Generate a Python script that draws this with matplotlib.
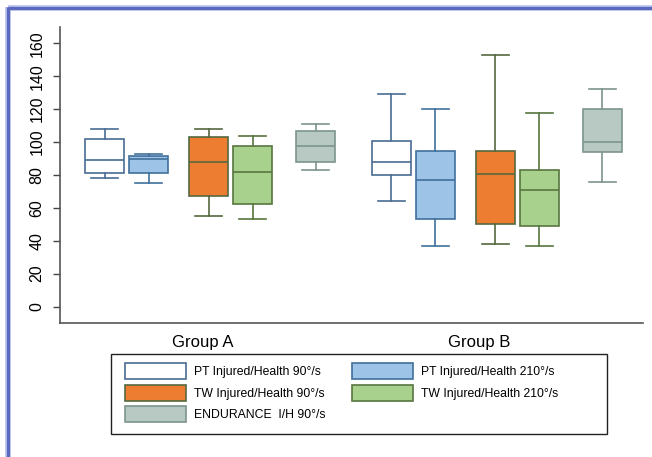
import matplotlib
matplotlib.use("Agg")
import matplotlib.pyplot as plt
from matplotlib.patches import Patch, Rectangle
from matplotlib.lines import Line2D

plt.rcParams['font.family'] = ['Liberation Sans', 'DejaVu Sans']

# Box-plot summaries per group: (whisker low, Q1, median, Q3, whisker high)
groups = ["Group A", "Group B"]
series = ["PT Injured/Health 90°/s", "PT Injured/Health 210°/s",
          "TW Injured/Health 90°/s", "TW Injured/Health 210°/s",
          "ENDURANCE  I/H 90°/s"]

pt90 = [[78, 81, 89, 102, 108], [64, 80, 88, 100.5, 129]]
pt210 = [[75, 81, 89.5, 91.5, 92.5], [37, 53.5, 77, 94.5, 120]]
tw90 = [[55, 67, 88, 103, 108], [38, 50, 80.5, 94.5, 153]]
tw210 = [[53, 62.5, 82, 97.5, 103.5], [37, 49, 71, 83, 118]]
endurance = [[83, 88, 97.5, 106.5, 111], [76, 94, 100, 120, 132.5]]

yticks = [0, 20, 40, 60, 80, 100, 120, 140, 160]

faces = ["#ffffff", "#9dc3e6", "#ed7d31", "#a9d18e", "#b8c9c3"]
edges = ["#4a6c94", "#41709c", "#55683f", "#58763f", "#7d958c"]

W, H = 652, 457
fig = plt.figure(figsize=(W / 100, H / 100), dpi=100)
ax = fig.add_axes([60 / W, (H - 323) / H, (643 - 60) / W, (323 - 27) / H])

group_start = [104.5, 391]
offsets = [0, 44, 104, 148, 211]
label_pos = [202.5, 479]
data = [pt90, pt210, tw90, tw210, endurance]

for si, vals in enumerate(data):
    stats = []
    pos = []
    for gi in range(len(groups)):
        lo, q1, med, q3, hi = vals[gi]
        stats.append(dict(whislo=lo, q1=q1, med=med, q3=q3, whishi=hi, fliers=[]))
        pos.append(group_start[gi] + offsets[si])
    ec = edges[si]
    ax.bxp(stats, positions=pos, widths=39, capwidths=27, patch_artist=True,
           showfliers=False, manage_ticks=False,
           boxprops=dict(facecolor=faces[si], edgecolor=ec, linewidth=1.2),
           medianprops=dict(color=ec, linewidth=1.2),
           whiskerprops=dict(color=ec, linewidth=1.2),
           capprops=dict(color=ec, linewidth=1.2))

ax.set_xlim(60, 643)
ax.set_ylim(-10, 170)
ax.set_yticks(yticks)
ax.set_yticklabels([str(t) for t in yticks], rotation=90, va='center', fontsize=11.5)
ax.set_xticks(label_pos)
ax.set_xticklabels(groups, fontsize=12)
ax.tick_params(axis='x', length=0, pad=9)
ax.tick_params(axis='y', length=5, width=1, color='#444444', pad=6)
for s in ['top', 'right']:
    ax.spines[s].set_visible(False)
for s in ['left', 'bottom']:
    ax.spines[s].set_color('#555555')
    ax.spines[s].set_linewidth(1.2)

# Legend inside a separate rectangular frame
handles = [Patch(facecolor=faces[i], edgecolor=edges[i], linewidth=1.2) for i in range(5)]
order = [0, 2, 4, 1, 3]
fs = 8.8
fs_px = fs * 100 / 72
swatch_h = 16
hh = (swatch_h / fs_px - 0.245) / 0.65
leg = fig.legend([handles[i] for i in order], [series[i] for i in order],
                 ncol=2, loc='upper left', frameon=False,
                 bbox_to_anchor=(124.7 / W, 1 - 363.3 / H), borderaxespad=0, borderpad=0,
                 fontsize=fs, handlelength=61 / fs_px,
                 handleheight=hh, labelspacing=0.45,
                 handletextpad=0.72, columnspacing=2.1)
fig.add_artist(Rectangle((111 / W, 1 - 434 / H), (607 - 111) / W, 80 / H,
                         transform=fig.transFigure, fill=False,
                         edgecolor='#222222', linewidth=1.0))

# Page border along the top and left edges
for lw, col in [(4.0, '#b4bce8'), (2.2, '#5a68c0')]:
    fig.add_artist(Line2D([7.5 / W, 1.0], [1 - 7.5 / H, 1 - 7.5 / H],
                          transform=fig.transFigure, color=col, linewidth=lw,
                          solid_capstyle='butt'))
    fig.add_artist(Line2D([7.5 / W, 7.5 / W], [0.0, 1 - 6.5 / H],
                          transform=fig.transFigure, color=col, linewidth=lw,
                          solid_capstyle='butt'))

fig.savefig("out.png", dpi=100)
